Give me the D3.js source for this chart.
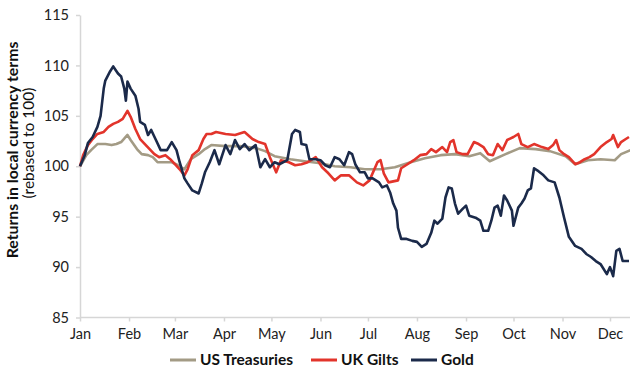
<!DOCTYPE html>
<html>
<head>
<meta charset="utf-8">
<script src="https://cdn.jsdelivr.net/npm/d3@7"></script>
<style>
  body { margin: 0; background: #fff; }
  text { font-family: Lato, "Noto Sans", sans-serif; }
</style>
</head>
<body>
<div id="d3"></div>
<script>
// day of year (0 = 1 Jan) and values
const treasuryDays = [0, 4, 7, 11, 16, 20, 23, 26, 30, 32, 36, 39, 43, 46, 49, 54, 58, 62, 66, 70, 75, 79, 83, 92, 101, 111, 117, 123, 133, 142, 152, 161, 171, 180, 190, 199, 209, 218, 228, 237, 246, 253, 259, 269, 278, 288, 297, 307, 313, 321, 329, 338, 342, 348];
const treasuryValues = [100.0, 101.1, 101.6, 102.2, 102.2, 102.1, 102.2, 102.4, 103.1, 102.6, 101.7, 101.2, 101.1, 100.9, 100.4, 100.4, 100.4, 100.1, 99.7, 100.7, 101.2, 101.7, 102.1, 102.0, 102.0, 101.8, 101.5, 101.0, 100.7, 100.5, 100.3, 100.0, 99.9, 99.7, 99.7, 99.9, 100.4, 100.8, 101.1, 101.2, 101.0, 101.3, 100.5, 101.2, 101.8, 101.7, 101.5, 101.0, 100.2, 100.6, 100.7, 100.6, 101.2, 101.6];

const giltDays = [0, 2, 5, 8, 11, 15, 18, 21, 24, 27, 30, 32, 35, 38, 41, 44, 47, 50, 54, 57, 60, 63, 66, 68, 71, 75, 78, 80, 83, 86, 92, 98, 104, 109, 113, 117, 120, 124, 127, 132, 136, 140, 144, 149, 153, 157, 161, 165, 170, 175, 179, 183, 188, 190, 192, 195, 201, 203, 206, 211, 215, 219, 222, 225, 229, 232, 234, 236, 238, 242, 245, 249, 252, 255, 258, 261, 264, 267, 270, 274, 277, 279, 283, 287, 292, 296, 299, 301, 303, 306, 309, 313, 316, 319, 322, 325, 329, 333, 336, 337, 340, 342, 345, 347];
const giltValues = [100.0, 101.1, 102.1, 102.7, 103.2, 103.4, 103.9, 104.2, 104.4, 104.7, 105.5, 104.9, 103.7, 102.7, 102.2, 101.7, 101.2, 100.9, 101.1, 100.7, 100.2, 99.7, 99.1, 99.7, 101.1, 101.6, 102.7, 103.2, 103.2, 103.4, 103.2, 103.1, 103.4, 102.7, 102.4, 102.2, 100.9, 99.4, 100.6, 100.4, 100.1, 100.2, 100.4, 100.9, 99.9, 99.3, 98.6, 99.1, 99.1, 98.4, 98.1, 98.6, 100.4, 100.6, 99.3, 98.4, 98.6, 99.8, 100.1, 100.6, 101.1, 101.2, 101.7, 101.4, 101.9, 101.4, 102.4, 102.6, 101.4, 101.2, 101.2, 102.4, 102.2, 101.9, 101.2, 101.1, 102.2, 101.6, 102.6, 102.9, 103.2, 102.2, 101.9, 102.2, 101.9, 101.7, 102.1, 102.6, 101.6, 101.2, 100.9, 100.2, 100.4, 100.7, 100.9, 101.2, 101.9, 102.4, 102.7, 103.1, 101.9, 102.4, 102.7, 102.9];

const goldDays = [0, 3, 5, 8, 11, 13, 15, 16, 19, 21, 24, 26, 28, 29, 30, 32, 35, 37, 38, 41, 43, 45, 48, 51, 55, 58, 61, 63, 66, 68, 71, 75, 77, 79, 82, 85, 88, 92, 95, 98, 101, 104, 107, 111, 114, 117, 120, 123, 126, 131, 134, 136, 139, 140, 143, 145, 149, 152, 155, 158, 161, 164, 167, 170, 172, 174, 177, 180, 182, 185, 189, 191, 194, 196, 198, 200, 201, 203, 206, 210, 213, 216, 219, 222, 224, 226, 229, 231, 233, 235, 237, 239, 242, 244, 246, 250, 253, 255, 258, 260, 262, 264, 266, 268, 270, 273, 274, 277, 279, 281, 283, 285, 287, 289, 293, 296, 300, 303, 306, 309, 313, 317, 320, 323, 326, 329, 333, 335, 337, 339, 341, 343, 347];
const goldValues = [100.0, 101.1, 102.3, 102.9, 103.9, 105.0, 107.7, 108.5, 109.4, 109.9, 109.2, 108.9, 107.7, 106.5, 108.4, 107.7, 107.0, 105.7, 104.4, 104.1, 103.1, 103.6, 102.6, 101.6, 101.6, 102.4, 101.6, 100.4, 98.8, 98.3, 97.6, 97.3, 98.3, 99.4, 100.4, 101.6, 100.2, 102.1, 101.2, 102.6, 101.7, 102.2, 101.6, 102.1, 99.9, 100.7, 99.9, 100.4, 100.2, 100.6, 103.2, 103.6, 103.4, 102.2, 102.1, 100.7, 100.7, 100.6, 100.1, 99.9, 100.9, 100.7, 100.1, 101.4, 101.2, 100.2, 99.4, 99.4, 98.8, 98.8, 98.4, 97.9, 98.1, 97.4, 96.3, 95.6, 93.9, 92.8, 92.8, 92.6, 92.5, 92.0, 92.3, 93.4, 94.6, 94.3, 94.8, 96.9, 97.9, 97.8, 96.3, 95.3, 95.8, 96.1, 95.1, 94.9, 94.6, 93.6, 93.6, 94.6, 95.9, 96.1, 95.1, 97.1, 96.6, 95.6, 94.1, 95.9, 96.3, 96.8, 97.6, 97.8, 99.8, 99.6, 99.1, 98.6, 98.4, 96.9, 94.9, 93.0, 92.1, 91.8, 91.3, 91.0, 90.6, 90.3, 89.3, 90.0, 89.1, 91.6, 91.8, 90.6, 90.6];

const yTicks = [85, 90, 95, 100, 105, 110, 115];
const seriesNames = ["US Treasuries", "UK Gilts", "Gold"];
const seriesColors = ["#a39b85", "#e2342b", "#1b2a4a"];

const W = 630, H = 373;
const margin = { top: 15, right: 0, bottom: 56, left: 80 };

const svg = d3
  .select("#d3")
  .append("svg")
  .attr("width", W)
  .attr("height", H);

const year = 2016;
const toDate = (d) => d3.timeDay.offset(new Date(year, 0, 1), d);

const x = d3
  .scaleTime()
  .domain([new Date(year, 0, 1), new Date(year, 11, 1)])
  .range([margin.left, 610]);

const y = d3
  .scaleLinear()
  .domain([85, 115])
  .range([H - margin.bottom + 0.5, margin.top]);

// axes
const xAxis = svg
  .append("g")
  .attr("transform", `translate(0, ${y(85)})`)
  .call(
    d3.axisBottom(x)
      .ticks(d3.timeMonth.every(1))
      .tickFormat(d3.timeFormat("%b"))
      .tickSize(4)
      .tickSizeOuter(0)
  );
xAxis.select(".domain").attr("d", `M${margin.left},0H${W}`);

const yAxis = svg
  .append("g")
  .attr("transform", `translate(${margin.left}, 0)`)
  .call(d3.axisLeft(y).tickValues(yTicks).tickSize(4).tickSizeOuter(0));

svg.selectAll(".domain, .tick line").attr("stroke", "#d6d6d6").attr("stroke-width", 1.5);
svg.selectAll(".tick text")
  .attr("fill", "#222")
  .style("font-size", "14.5px")
  .style("font-family", "Lato, 'Noto Sans', sans-serif");
xAxis.selectAll(".tick text").attr("dy", "1.05em").attr("y", 6);
yAxis.selectAll(".tick text").attr("x", -11);

// axis titles
svg.append("text")
  .attr("transform", "translate(18, 150) rotate(-90)")
  .attr("text-anchor", "middle")
  .attr("font-weight", "bold")
  .attr("font-size", 15.8)
  .attr("fill", "#111")
  .text("Returns in local currency terms");
svg.append("text")
  .attr("transform", "translate(34, 143) rotate(-90)")
  .attr("text-anchor", "middle")
  .attr("font-size", 15.5)
  .attr("fill", "#111")
  .text("(rebased to 100)");

// lines
const series = [
  { days: treasuryDays, values: treasuryValues },
  { days: giltDays, values: giltValues },
  { days: goldDays, values: goldValues },
];

const line = d3
  .line()
  .x((d) => x(toDate(d[0])))
  .y((d) => y(d[1]));

series.forEach((s, i) => {
  svg.append("path")
    .datum(d3.zip(s.days, s.values))
    .attr("fill", "none")
    .attr("stroke", seriesColors[i])
    .attr("stroke-width", 2.6)
    .attr("stroke-linejoin", "round")
    .attr("d", line);
});

// legend
const legendStarts = [170, 311, 411];
const legend = svg.append("g").attr("transform", "translate(0, 360)");
seriesNames.forEach((name, i) => {
  const g = legend.append("g").attr("transform", `translate(${legendStarts[i]}, 0)`);
  g.append("line")
    .attr("x1", 0).attr("x2", 26)
    .attr("stroke", seriesColors[i])
    .attr("stroke-width", 3);
  g.append("text")
    .attr("x", 30)
    .attr("dy", "0.35em")
    .attr("font-weight", "bold")
    .attr("font-size", 15.5)
    .attr("fill", "#111")
    .text(name);
});
</script>
</body>
</html>
